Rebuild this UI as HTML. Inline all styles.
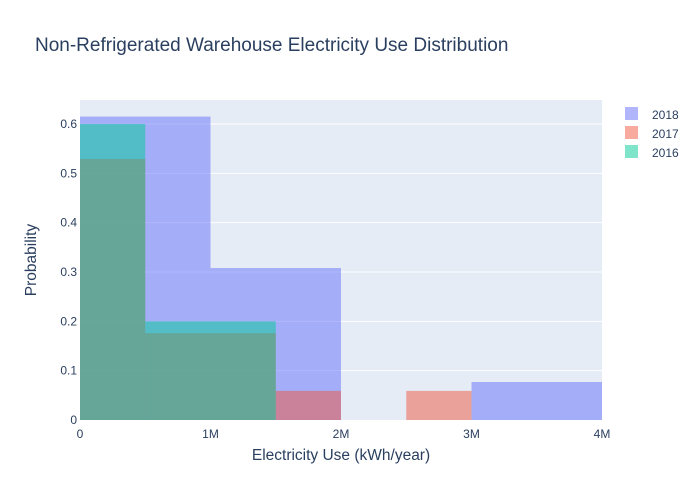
<!DOCTYPE html>
<html><head><meta charset="utf-8"><style>
html,body{margin:0;padding:0;background:#fff;}
svg{display:block;font-family:"Liberation Sans",Arial,sans-serif;}
</style></head><body>
<svg id="chart" width="700" height="500">
<rect width="700" height="500" fill="#fff"/>
<rect x="80" y="100" width="522" height="320" fill="#e5ecf6"/>
<g id="grid"></g>
<g id="bars"></g>
<g id="ticks"></g>
<text x="35" y="51" font-size="19" fill="#2a3f5f">Non-Refrigerated Warehouse Electricity Use Distribution</text>
<text x="341" y="460" font-size="15.5" fill="#2a3f5f" text-anchor="middle">Electricity Use (kWh/year)</text>
<text x="36" y="260" font-size="15.5" fill="#2a3f5f" text-anchor="middle" transform="rotate(-90 36 260)">Probability</text>
<g id="legend"></g>
</svg>
<script>
const seriesNames = ["2018","2017","2016"];
const seriesColors = ["#636efa","#EF553B","#00cc96"];
const bins2018 = [[0,1],[1,2],[2,3],[3,4]];
const vals2018 = [0.615,0.308,0,0.077];
const bins2017 = [[0,0.5],[0.5,1],[1,1.5],[1.5,2],[2,2.5],[2.5,3]];
const vals2017 = [0.529,0.176,0.176,0.059,0,0.059];
const bins2016 = [[0,0.5],[0.5,1],[1,1.5]];
const vals2016 = [0.6,0.2,0.2];
const xTicks = [0,1,2,3,4];
const xTickLabels = ["0","1M","2M","3M","4M"];
const yTicks = [0,0.1,0.2,0.3,0.4,0.5,0.6];
const yTickLabels = ["0","0.1","0.2","0.3","0.4","0.5","0.6"];

const NS="http://www.w3.org/2000/svg";
const L=80,R=602,T=100,B=420,xMax=4,yMax=0.6486;
const xs=v=>L+(v/xMax)*(R-L);
const ys=v=>B-(v/yMax)*(B-T);
function mk(tag,attrs,parent){const e=document.createElementNS(NS,tag);for(const k in attrs)e.setAttribute(k,attrs[k]);parent.appendChild(e);return e;}
const grid=document.getElementById('grid'),ticks=document.getElementById('ticks'),bars=document.getElementById('bars'),leg=document.getElementById('legend');
yTicks.forEach((v,i)=>{
  if(v>0){const g=mk('line',{x1:L,x2:R,y1:ys(v),y2:ys(v),stroke:'#fff','stroke-width':1},grid);
  
  }
  const t=mk('text',{x:L-3,y:ys(v)+4,'font-size':12,fill:'#2a3f5f','text-anchor':'end'},ticks);
  t.textContent=yTickLabels[i];
  
  
});
xTicks.forEach((v,i)=>{
  const t=mk('text',{x:xs(v),y:B+18,'font-size':12,fill:'#2a3f5f','text-anchor':'middle'},ticks);
  t.textContent=xTickLabels[i];
  
  
});
const allBins=[bins2018,bins2017,bins2016],allVals=[vals2018,vals2017,vals2016];
allBins.forEach((bins,s)=>{
  bins.forEach((b,i)=>{
    const v=allVals[s][i]; if(v<=0) return;
    const r=mk('rect',{x:xs(b[0]),y:ys(v),width:xs(b[1])-xs(b[0]),height:ys(0)-ys(v),fill:seriesColors[s],'fill-opacity':0.5},bars);
    
    
  });
});
seriesNames.forEach((n,i)=>{
  const y=114+i*19;
  const r=mk('rect',{x:625,y:y-7,width:13,height:13,fill:seriesColors[i],'fill-opacity':0.5},leg);
  
  
  const t=mk('text',{x:652,y:y+5,'font-size':12,fill:'#2a3f5f'},leg);
  t.textContent=n;
  
  
});
</script>
</body></html>
